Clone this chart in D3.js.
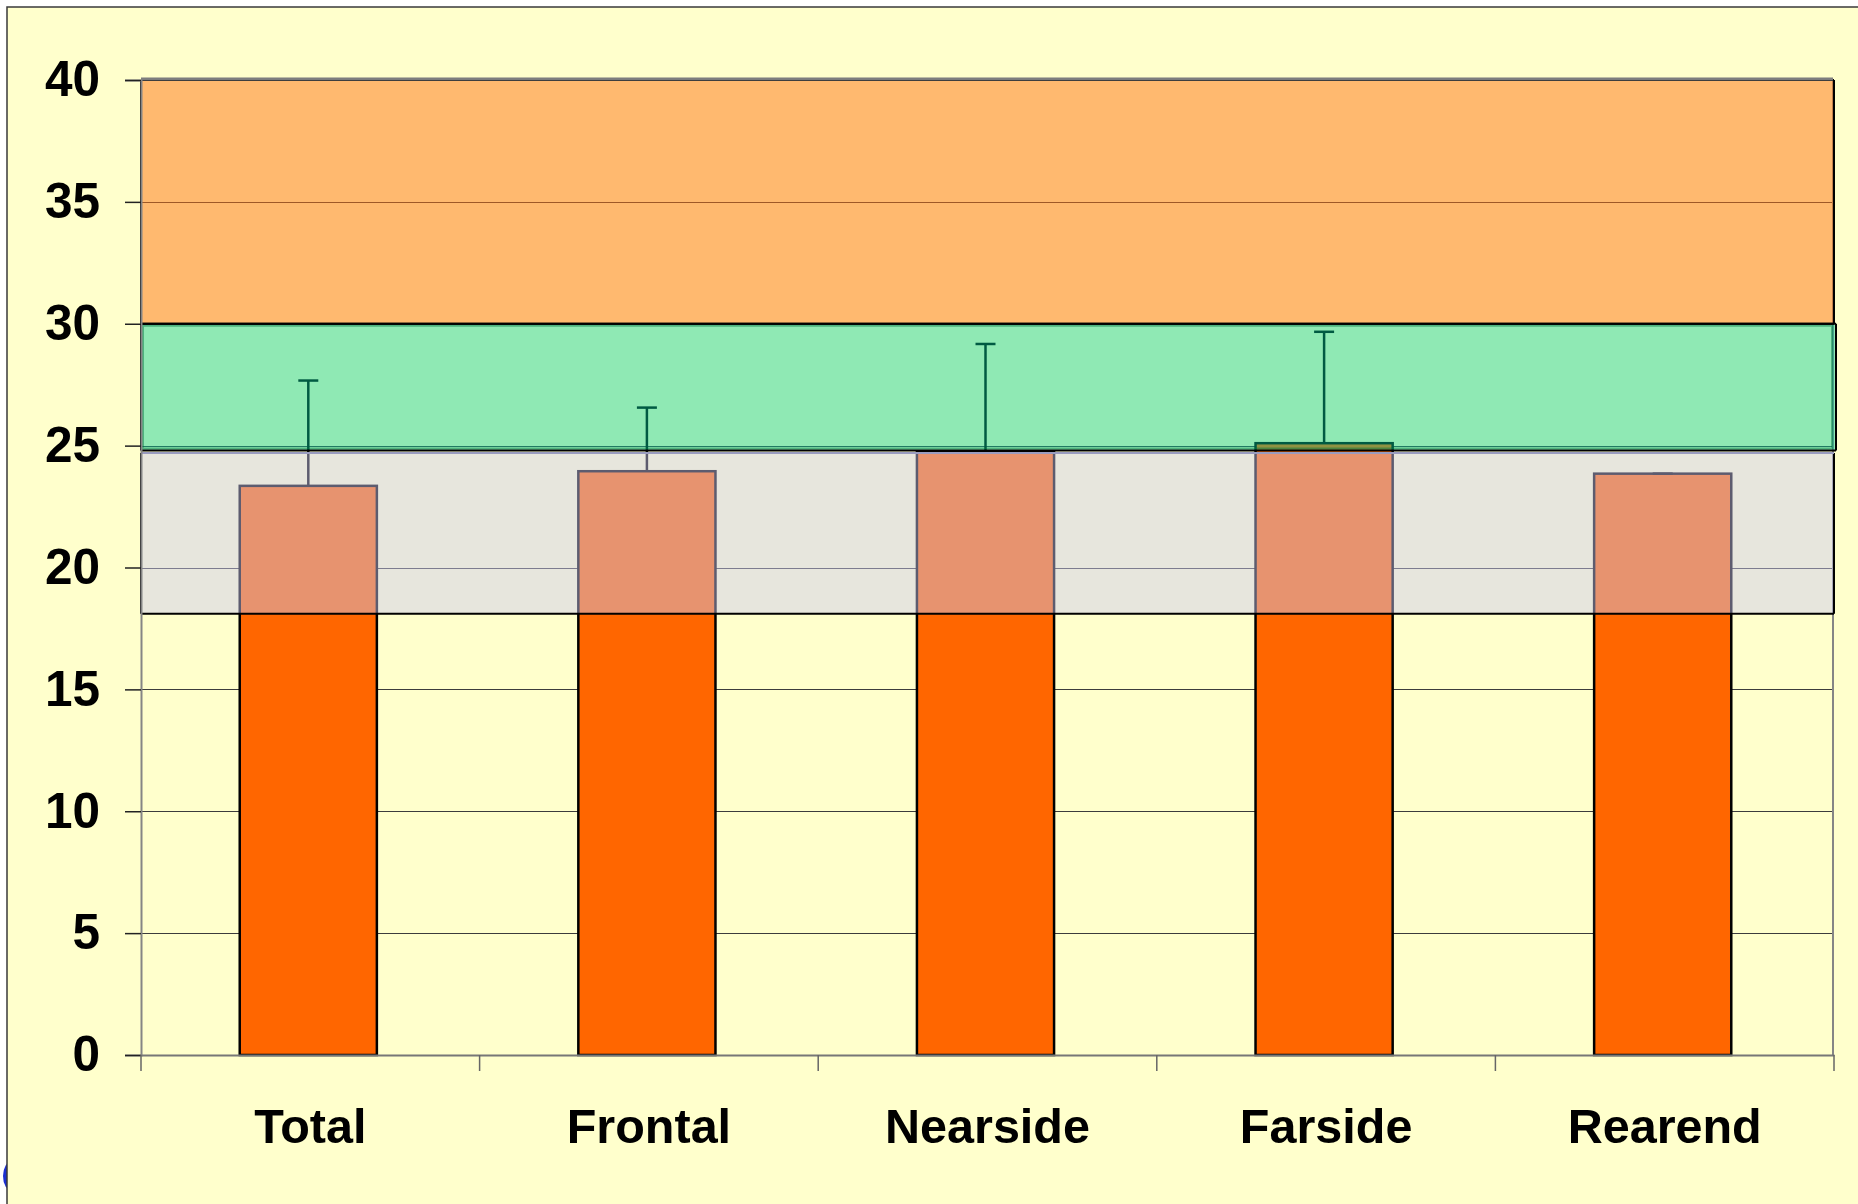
<!DOCTYPE html>
<html>
<head>
<meta charset="utf-8">
<script src="https://cdn.jsdelivr.net/npm/d3@7"></script>
<style>
  html, body { margin: 0; padding: 0; background: #ffffff; }
  svg { display: block; }
  text { font-family: "Liberation Sans", Arial, sans-serif; font-weight: bold; }
</style>
</head>
<body>
<svg id="chart" width="1858" height="1204"></svg>
<script>
// ---- data ----
const categories = ["Total", "Frontal", "Nearside", "Farside", "Rearend"];
const barValues = [23.35, 23.95, 24.75, 25.1, 23.85];
const errorPlus = [4.32, 2.61, 4.42, 4.57, 0];
const yTicks = [0, 5, 10, 15, 20, 25, 30, 35, 40];
const bandLow = [30, 24.8, 18.1];
const bandHigh = [40, 30, 24.7];

// ---- layout ----
const W = 1858, H = 1204;
const plot = { left: 141, right: 1834, top: 80, bottom: 1055 };
const svg = d3.select("#chart");

const x = d3.scaleBand().domain(categories).range([plot.left, plot.right]).paddingInner(0).paddingOuter(0);
const y = d3.scaleLinear().domain([0, 40]).range([plot.bottom, plot.top]);
const barW = x.bandwidth() * 0.405;

// blue fragment at far left (clipped logo)
svg.append("ellipse").attr("cx", 12).attr("cy", 1176).attr("rx", 9).attr("ry", 15).attr("fill", "#1a2fd0");
svg.append("rect").attr("x", 7).attr("y", 1120).attr("width", 40).attr("height", 84).attr("fill", "#FFFFCC");

// frame / background
svg.append("rect").attr("x", 7).attr("y", 7).attr("width", W + 20).attr("height", H + 20)
  .attr("fill", "#FFFFCC").attr("stroke", "#3a3a3a").attr("stroke-width", 1.5);

// gridlines
svg.append("g").selectAll("line").data(yTicks.filter(d => d > 0)).join("line")
  .attr("x1", plot.left).attr("x2", plot.right)
  .attr("y1", d => Math.round(y(d)) + 0.5).attr("y2", d => Math.round(y(d)) + 0.5)
  .attr("stroke", "#3c3c3c").attr("stroke-width", 1);

// plot-area right border
svg.append("line").attr("x1", plot.right - 1).attr("x2", plot.right - 1)
  .attr("y1", plot.top).attr("y2", plot.bottom).attr("stroke", "#858585").attr("stroke-width", 2);

// bars
svg.append("g").selectAll("rect").data(categories).join("rect")
  .attr("x", (d) => x(d) + x.bandwidth() / 2 - barW / 2 - 2)
  .attr("y", (d, i) => y(barValues[i]))
  .attr("width", barW)
  .attr("height", (d, i) => y(0) - y(barValues[i]))
  .attr("fill", "#FF6600").attr("stroke", "#000").attr("stroke-width", 2.5);

// error bars (plus only)
const eb = svg.append("g").attr("stroke", "#000").attr("stroke-width", 2.5);
categories.forEach((c, i) => {
  const cx = x(c) + x.bandwidth() / 2 - 2;
  const top = y(barValues[i] + errorPlus[i]);
  eb.append("line").attr("x1", cx).attr("x2", cx).attr("y1", y(barValues[i])).attr("y2", top);
  eb.append("line").attr("x1", cx - 10).attr("x2", cx + 10).attr("y1", top).attr("y2", top);
});

// translucent bands on top
const bandFill = ["rgba(255,115,18,0.5)", "rgba(0,205,150,0.44)", "rgba(203,201,243,0.46)"];
const bands = svg.append("g");
bandLow.forEach((lo, i) => {
  const y0 = y(bandHigh[i]), y1 = y(lo);
  bands.append("rect").attr("x", plot.left).attr("y", y0)
    .attr("width", plot.right - plot.left + (i === 1 ? 2 : 0)).attr("height", y1 - y0)
    .attr("fill", bandFill[i]);
  if (i === 1) {
    bands.append("rect").attr("x", plot.left + 2).attr("y", y0 + 2)
      .attr("width", plot.right - plot.left - 4).attr("height", y1 - y0 - 4)
      .attr("fill", "none").attr("stroke", "rgba(0,110,60,0.45)").attr("stroke-width", 2);
  }
});
// band outlines
bandLow.forEach((lo, i) => {
  const y0 = y(bandHigh[i]), y1 = y(lo);
  const xr = plot.right + (i === 1 ? 2 : 0);
  const col = "#000";
  bands.append("line").attr("x1", plot.left).attr("x2", plot.left).attr("y1", y0).attr("y2", y1).attr("stroke", col).attr("stroke-width", 2);
  bands.append("line").attr("x1", xr).attr("x2", xr).attr("y1", y0).attr("y2", y1).attr("stroke", col).attr("stroke-width", 2);
  bands.append("line").attr("x1", plot.left).attr("x2", xr).attr("y1", y1).attr("y2", y1).attr("stroke", col).attr("stroke-width", 2);
  bands.append("line").attr("x1", plot.left).attr("x2", xr).attr("y1", y0).attr("y2", y0)
    .attr("stroke", i === 2 ? "#9a9cc0" : col).attr("stroke-width", 2);
});

// plot-area top border
svg.append("line").attr("x1", plot.left).attr("x2", plot.right - 1).attr("y1", plot.top - 1).attr("y2", plot.top - 1)
  .attr("stroke", "#7d7d7d").attr("stroke-width", 3);

// y axis
const yAxis = svg.append("g").attr("transform", `translate(${plot.left},0)`)
  .call(d3.axisLeft(y).tickValues(yTicks).tickSize(16).tickPadding(25).tickFormat(d3.format("d")));
yAxis.select(".domain").attr("stroke", "#858585").attr("stroke-width", 2);
yAxis.selectAll(".tick line").attr("stroke", "#222").attr("stroke-width", 1.5);
yAxis.selectAll(".tick text").attr("font-size", 49.5).attr("fill", "#000")
  .attr("font-family", "'Liberation Sans', Arial, sans-serif").attr("font-weight", "bold");

// x axis
const xAxis = svg.append("g").attr("transform", `translate(0,${plot.bottom})`)
  .call(d3.axisBottom(x).tickSize(0).tickPadding(54));
xAxis.select(".domain").attr("stroke", "#777").attr("stroke-width", 2);
xAxis.selectAll(".tick text").attr("font-size", 48.5).attr("fill", "#000")
  .attr("font-family", "'Liberation Sans', Arial, sans-serif").attr("font-weight", "bold");
const boundaries = categories.map(c => x(c)).concat([x.range()[1]]);
xAxis.selectAll("line.bnd").data(boundaries).join("line").attr("class", "bnd")
  .attr("x1", d => d).attr("x2", d => d).attr("y1", 0).attr("y2", 16)
  .attr("stroke", "#666").attr("stroke-width", 1.5);
</script>
</body>
</html>
